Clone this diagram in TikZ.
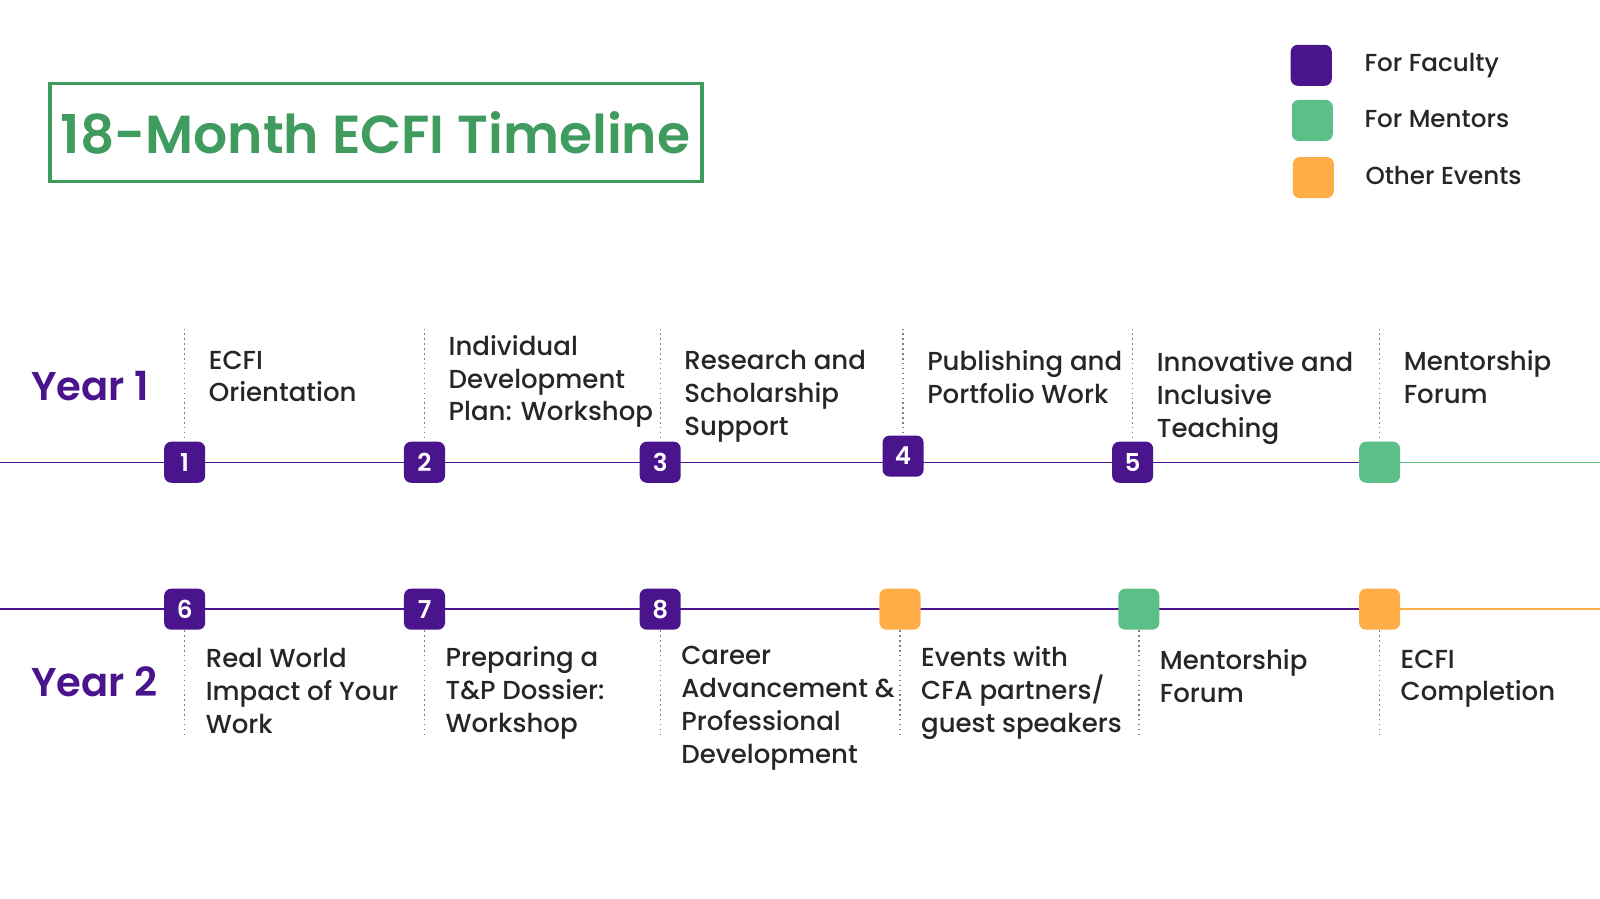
\documentclass[tikz,border=0pt]{standalone}
\usepackage{fontspec}
\setmainfont{Poppins Medium}[BoldFont={Poppins SemiBold}]
\definecolor{faculty}{HTML}{4A148C}
\definecolor{mentor}{HTML}{5CBF87}
\definecolor{other}{HTML}{FFAE47}
\definecolor{titlegreen}{HTML}{3F9B5E}
\tikzset{
  mark box/.style={rounded corners=2pt, minimum size=0.41cm, inner sep=0pt, text=white, font=\fontsize{7}{8}\selectfont\bfseries},
  event/.style={anchor=north west, align=left, inner sep=0pt, font=\fontsize{7.4}{9.3}\selectfont, text=black!85},
  tick line/.style={densely dotted, gray, thin},
  legend box/.style={rounded corners=2pt, minimum size=0.41cm, inner sep=0pt},
  legend text/.style={anchor=west, font=\fontsize{7}{9}\selectfont, text=black!85},
}
\begin{document}
\begin{tikzpicture}[x=0.0102cm, y=-0.0102cm]
    \useasboundingbox (0,0) rectangle (1568,881);

    % Title
    \draw[titlegreen, line width=1pt] (49,82) rectangle (688,178);
    \node[text=titlegreen, font=\fontsize{15.2}{18}\selectfont\bfseries] (title) at (368,130) {18-Month ECFI Timeline};

    % Legend
    \node[legend box, fill=faculty] (lgfac) at (1285,64) {};
    \node[legend box, fill=mentor] (lgmen) at (1286,118) {};
    \node[legend box, fill=other] (lgoth) at (1287,174) {};
    \node[legend text] at (1325,64) {For Faculty};
    \node[legend text] at (1325,117) {For Mentors};
    \node[legend text] at (1326,172) {Other Events};

    % Year labels
    \node[anchor=west, inner sep=0pt, text=faculty, font=\fontsize{11.4}{14}\selectfont\bfseries] (y1) at (30,378) {Year 1};
    \node[anchor=west, inner sep=0pt, text=faculty, font=\fontsize{11.4}{14}\selectfont\bfseries] (y2) at (30,668) {Year 2};

    % Timelines
    \coordinate (l1a) at (0,453);
    \coordinate (l1b) at (1568,453);
    \coordinate (l2a) at (0,597);
    \coordinate (l2b) at (1568,597);
    \draw[faculty, thin] (l1a) -- (1352,453);
    \draw[mentor, thin] (1352,453) -- (l1b);
    \draw[faculty, thin] (l2a) -- (1352,597);
    \draw[other, thin] (1352,597) -- (l2b);

    % Year 1 events
    \foreach \x/\y/\c/\n/\t/\txt in {
        181/453/faculty/1/343/{ECFI\\Orientation},
        416/453/faculty/2/328/{Individual\\Development\\Plan: Workshop},
        647/453/faculty/3/343/{Research and\\Scholarship\\Support},
        885/447/faculty/4/343/{Publishing and\\Portfolio Work},
        1110/453/faculty/5/344/{Innovative and\\Inclusive\\Teaching},
        1352/453/mentor//343/{Mentorship\\Forum}}{
        \node[mark box, fill=\c] (a\x) at (\x,\y) {\n};
        \coordinate (ta\x) at (\x,322);
        \draw[tick line] (ta\x) -- (a\x.north);
        \node[event] (ea\x) at (\x+23,\t) {\txt};
    }

    % Year 2 events
    \foreach \x/\c/\n/\t/\txt in {
        181/faculty/6/635/{Real World\\Impact of Your\\Work},
        416/faculty/7/633/{Preparing a\\T\&P Dossier:\\Workshop},
        647/faculty/8/633/{Career\\Advancement \&\\Professional\\Development},
        882/other//633/{Events with\\CFA partners/\\guest speakers},
        1116/mentor//636/{Mentorship\\Forum},
        1352/other//636/{ECFI\\Completion}}{
        \node[mark box, fill=\c] (b\x) at (\x,597) {\n};
        \coordinate (tb\x) at (\x,720);
        \draw[tick line] (b\x.south) -- (tb\x);
        \node[event] (eb\x) at (\x+20,\t) {\txt};
    }

\end{tikzpicture}
\end{document}
